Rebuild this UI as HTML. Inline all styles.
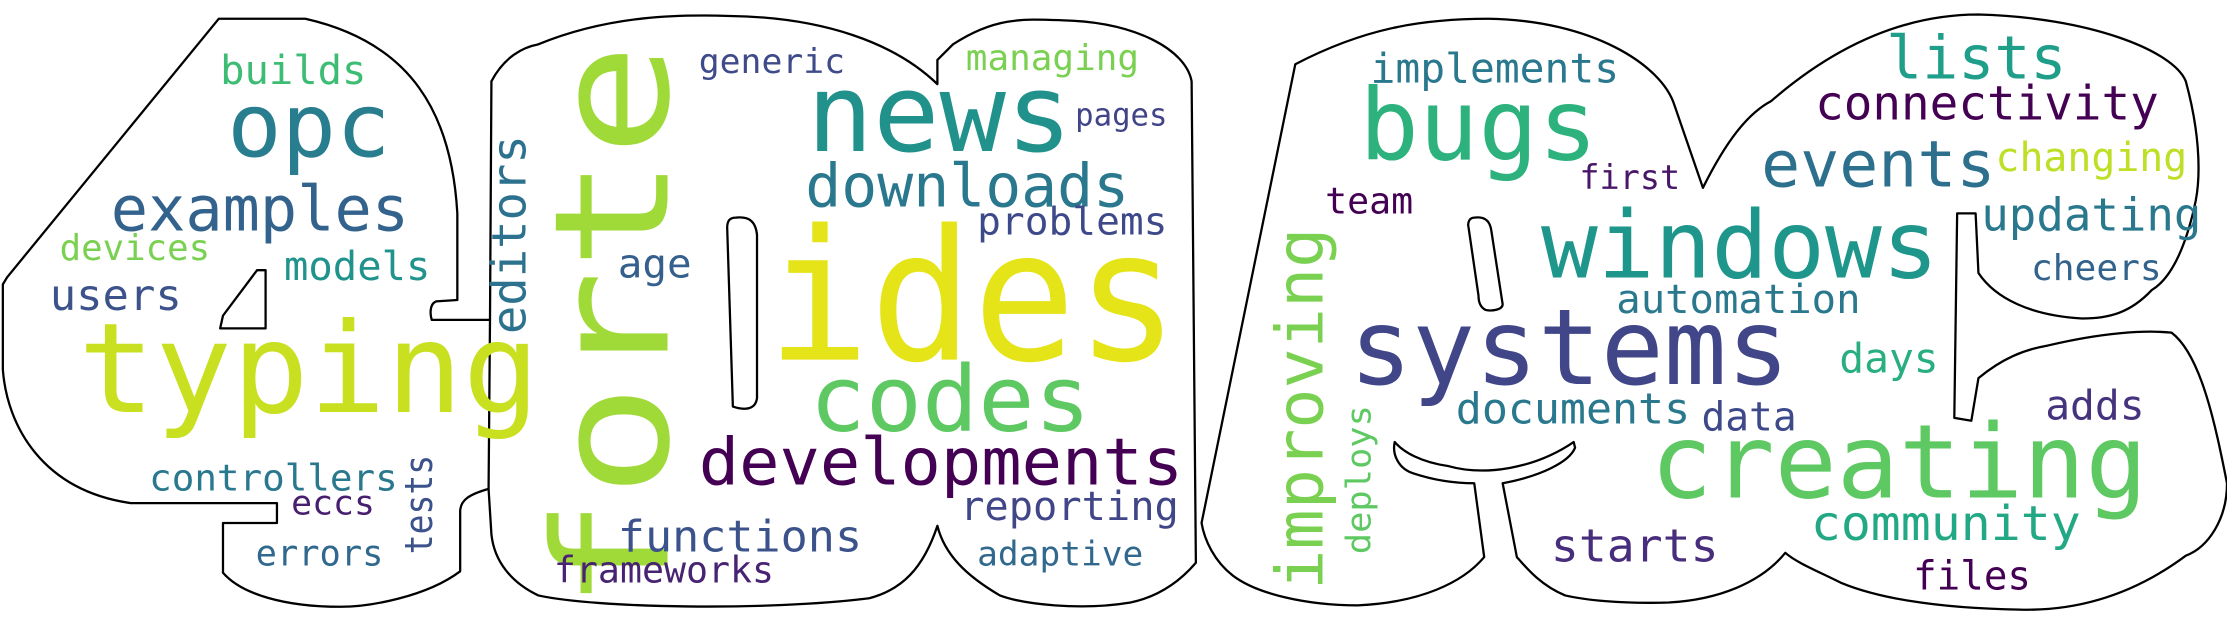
<!DOCTYPE html>
<html><head><meta charset="utf-8"><style>
html,body{margin:0;padding:0;background:#fff;}
svg{display:block}
text{font-family:"DejaVu Sans Mono","Liberation Mono",monospace;}
</style></head><body>
<svg id="cloud" width="2227" height="627" viewBox="0 0 1568 441" xmlns="http://www.w3.org/2000/svg">
<rect width="1568" height="441" fill="#fff"/>
<g fill="none" stroke="#000" stroke-width="1.6" stroke-linejoin="round">
<path d="M154,13 L215,13 C290,30 318,80 322,150 L322,211 L307,212 C302,214 303,222 304,225 L345,225 L344,344 C330,348 324,352 324,360 L324,402 C300,420 260,427 240,427 C200,427 170,418 157,403 L157,368 L195,368 L195,354 L92,354 C30,345 5,300 2,260 L2,200 L5,195 Z"/>
<path d="M181,190 L187,190 L187,231 L155,231 L157,222 Z"/>
<path d="M345,225 L346,57 C355,40 368,33 379,31 C430,10 480,10 514,11 C580,12 630,30 660,59 L660,42 L671,31 C700,12 720,13 747,14 C800,15 835,35 839,57 L842,396 C830,410 815,420 796,424 C760,430 720,425 704,419 C680,405 665,390 660,370 C650,400 635,415 612,421 C540,430 420,428 379,419 C360,410 348,395 346,376 L344,344"/>
<path d="M518,153 C528,152 532,156 533,165 L533,280 C532,288 525,289 516,286 L512,160 C512,155 514,153 518,153 Z"/>
<path d="M912,45 C960,20 1000,13 1048,13 C1120,14 1170,45 1179,74 L1199,132 C1215,100 1230,80 1247,71 C1300,25 1350,10 1393,10 C1470,12 1530,35 1539,57 C1548,90 1550,120 1546,141 C1540,170 1530,195 1515,204 C1500,220 1485,224 1466,224 C1430,222 1405,210 1393,192 L1391,150 L1378,150 L1376,294 L1388,296 L1393,266 C1410,252 1425,246 1442,243 C1480,234 1510,232 1529,234 C1550,250 1560,300 1568,340 C1568,365 1555,385 1539,391 C1500,420 1460,430 1422,429 C1360,428 1320,420 1296,410 C1280,402 1265,396 1257,389 C1240,410 1210,422 1175,424 C1140,425 1115,422 1102,419 C1085,412 1075,400 1068,392 L1058,340 C1085,335 1105,325 1109,315 L1108,311 C1080,330 1045,335 1020,328 C1000,325 988,318 982,311 C980,320 985,330 995,333 C1010,338 1025,340 1038,340 L1045,392 C1030,410 1000,424 956,426 C920,426 885,418 868,405 C855,395 848,380 846,368 Z"/>
<path d="M1038,153 C1045,152 1049,155 1050,162 L1058,214 C1058,218 1050,219 1046,218 C1042,216 1041,212 1041,208 L1034,160 C1033,156 1035,153 1038,153 Z"/>
</g>
<g id="words"></g>
</svg>
<script>
const wordTexts = ["typing","forte","ides","news","opc","examples","downloads","codes","developments","functions","frameworks","reporting","adaptive","problems","pages","managing","generic","age","editors","builds","devices","models","users","controllers","eccs","errors","tests","bugs","implements","lists","connectivity","events","changing","updating","cheers","first","team","windows","automation","systems","days","documents","data","adds","creating","community","starts","files","improving","deploys"];
const wordWeights = [0.75,0.92,1.0,0.6,0.5,0.34,0.33,0.52,0.37,0.25,0.2,0.22,0.19,0.22,0.17,0.19,0.19,0.22,0.26,0.22,0.19,0.22,0.24,0.2,0.18,0.19,0.2,0.56,0.23,0.33,0.26,0.36,0.22,0.25,0.19,0.19,0.2,0.52,0.23,0.58,0.23,0.24,0.22,0.23,0.57,0.27,0.26,0.22,0.37,0.19];
const wordColors = ["#c8e020","#a0da39","#e5e419","#21918c","#287d8e","#33638d","#2a788e","#5ec962","#440154","#3b528b","#482374","#404688","#31688e","#3e4989","#414487","#7ad151","#3e4a89","#355f8d","#2c728e","#3dbc74","#7ad151","#20938c","#3b528b","#2a788e","#481f70","#31688e","#3b528b","#2db27d","#2a788e","#1f9e89","#440154","#2d708e","#bddf26","#2a788e","#33638d","#481769","#440154","#1f968b","#2a788e","#404688","#29af7f","#2a788e","#3e4989","#46337e","#5ec962","#22a884","#472d7b","#440154","#7ad151","#5ec962"];
// layout: [x, baseline, length, fontSize, vertical]
const layout = [
[55,290,325,88,0],[470,430,400,112,1],[540,253,290,128,0],[568,106,187,76,0],[160,110,115,62,0],
[78,162,210,44,0],[567,145,228,42,0],[570,303,198,64,0],[492,341,341,46,0],[435,388,172,31,0],
[390,410,155,26,0],[676,366,154,28,0],[688,398,117,24,0],[688,165,134,27,0],[757,88,65,22,0],
[680,49,122,25,0],[492,51,103,24,0],[435,195,52,28,0],[370,235,140,33,1],[155,59,103,28,0],
[42,183,106,25,0],[200,197,103,28,0],[35,218,93,30,0],[105,345,175,26,0],[205,362,59,24,0],
[180,398,90,25,0],[304,390,70,27,1],[957,112,168,70,0],[965,58,175,29,0],[1328,55,127,42,0],
[1278,84,242,33,0],[1240,131,165,45,0],[1405,120,135,28,0],[1395,162,155,32,0],[1430,197,92,25,0],
[1112,133,71,24,0],[933,150,62,26,0],[1085,195,280,66,0],[1138,220,172,28,0],[950,270,310,74,0],
[1295,262,70,29,0],[1025,298,165,30,0],[1198,303,67,28,0],[1440,295,70,29,0],[1162,350,350,72,0],
[1275,380,190,34,0],[1092,395,118,32,0],[1347,415,83,28,0],[931,415,255,46,1],[965,390,105,24,1]
];
const g = document.getElementById('words');
const NS = 'http://www.w3.org/2000/svg';
for (let i = 0; i < wordTexts.length; i++) {
  const L = layout[i];
  const t = document.createElementNS(NS, 'text');
  t.textContent = wordTexts[i];
  
  
  t.setAttribute('fill', wordColors[i]);
  t.setAttribute('font-size', L[3]);
  t.setAttribute('textLength', L[2]);
  t.setAttribute('lengthAdjust', 'spacingAndGlyphs');
  if (L[4]) {
    t.setAttribute('x', 0); t.setAttribute('y', 0);
    t.setAttribute('transform', 'translate(' + L[0] + ',' + L[1] + ') rotate(-90)');
  } else {
    t.setAttribute('x', L[0]); t.setAttribute('y', L[1]);
  }
  g.appendChild(t);
}
</script>
</body></html>
